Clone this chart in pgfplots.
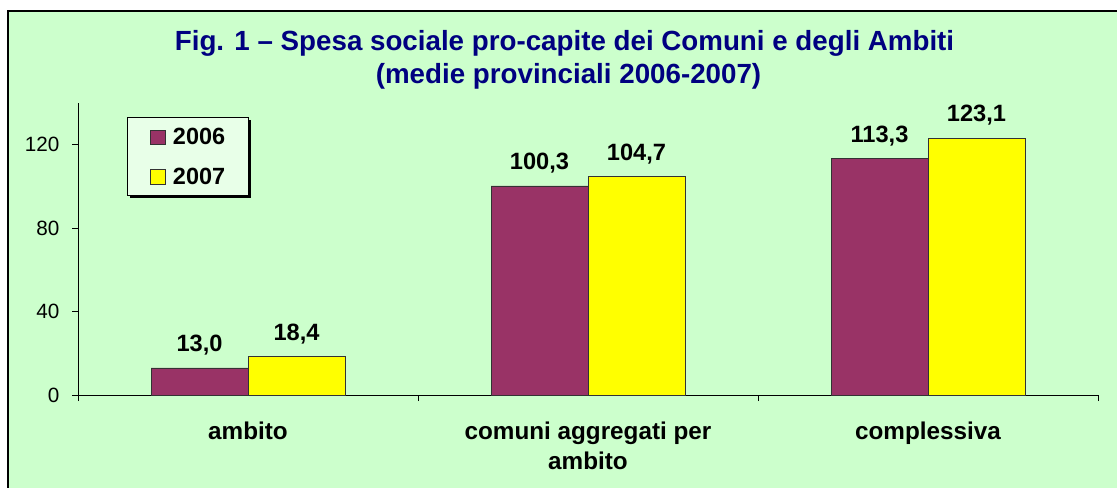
\documentclass[border=0pt]{standalone}
\usepackage{pgfplots}
\pgfplotsset{compat=1.18}
\usepackage{fontspec}
\setmainfont{Liberation Sans}
\definecolor{bgG}{RGB}{204,255,204}
\definecolor{bgL}{RGB}{240,255,240}
\definecolor{legF}{RGB}{232,255,232}
\definecolor{c06}{RGB}{153,51,102}
\definecolor{c07}{RGB}{255,255,0}
\definecolor{ttl}{RGB}{0,0,128}
\pgfplotsset{sqleg/.style={legend image code/.code={\draw[##1,draw=black!80] (0pt,-5.4pt) rectangle (11.25pt,5.4pt);}}}
\begin{document}
\begin{tikzpicture}
\useasboundingbox (0,0) rectangle (837.75pt,-366pt);
\fill[white] (0,0) rectangle (837.75pt,-366pt);
\shade[top color=bgG, middle color=bgL, bottom color=bgG] (6pt,-8.25pt) rectangle (840pt,-368pt);
\draw[line width=0.9pt] (6pt,-368pt) -- (6pt,-8.25pt) -- (840pt,-8.25pt);
\node[anchor=base, font=\bfseries\fontsize{20.8}{24}\selectfont, text=ttl] at (423.4pt,-38.25pt) {Fig. 1 – Spesa sociale pro-capite dei Comuni e degli Ambiti};
\node[anchor=base, font=\bfseries\fontsize{20.8}{24}\selectfont, text=ttl] at (426.4pt,-63pt) {(medie provinciali 2006-2007)};
% legend frame with shadow
\fill[black] (97.5pt,-90pt) rectangle (188.25pt,-148.5pt);
\filldraw[fill=legF, draw=black, line width=0.7pt] (95.25pt,-87.75pt) rectangle (186pt,-146.25pt);
\begin{axis}[at={(58.5pt,-296.25pt)}, anchor=south west, scale only axis,
  width=765pt, height=219pt,
  xmin=0, xmax=3, ymin=0, ymax=140,
  axis x line*=bottom, axis y line*=left,
  axis line style={black, line width=0.7pt},
  ytick={0,40,80,120}, tick align=outside, major tick length=4.5pt,
  tick style={black, line width=0.7pt},
  xtick={0,1,2,3}, xticklabels={},
  extra x ticks={0.5,1.5,2.5},
  extra x tick labels={ambito,{comuni aggregati per\\ambito},complessiva},
  extra x tick style={major tick length=0pt},
  xticklabel style={align=center, font=\bfseries\fontsize{18.2}{22.5}\selectfont, yshift=-17pt},
  yticklabel style={font=\fontsize{15.5}{17}\selectfont, xshift=-6pt},
  /pgf/number format/.cd, assume math mode=true, use comma, fixed, 1000 sep={},
  /pgfplots/.cd,
  ybar=0pt, bar width=72.75pt,
  nodes near coords={\pgfmathprintnumber[fixed, fixed zerofill, precision=1, use comma]{\pgfplotspointmeta}},
  every node near coord/.append style={font=\bfseries\fontsize{17.7}{20}\selectfont, text=black, yshift=6pt},
  legend style={at={(0.1088,0.815)}, anchor=center, draw=none, fill=none,
    font=\bfseries\fontsize{17.6}{20}\selectfont,
    row sep=12pt, column sep=3.5pt, nodes={inner sep=2pt}, cells={anchor=west}},
]
\addplot[fill=c06, draw=black!80, sqleg] coordinates {(0.5,13.0) (1.5,100.3) (2.5,113.3)};
\addplot[fill=c07, draw=black!80, sqleg] coordinates {(0.5,18.4) (1.5,104.7) (2.5,123.1)};
\legend{2006,2007}
\end{axis}
\end{tikzpicture}
\end{document}
